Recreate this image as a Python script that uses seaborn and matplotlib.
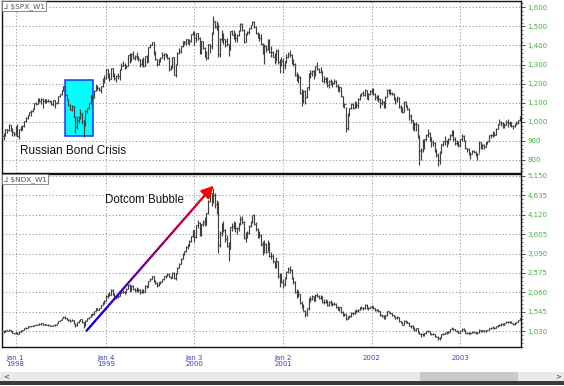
import numpy as np
import matplotlib
matplotlib.use("Agg")
import matplotlib.pyplot as plt
import seaborn as sns
from matplotlib.patches import Rectangle
from matplotlib.collections import LineCollection
from matplotlib.ticker import FixedLocator, MultipleLocator, FuncFormatter

# weekly bars: first bar = week ending 7 Nov 1997, last = week ending 5 Sep 2003
# one line per year (1997 tail, 1998, 1999, 2000, 2001, 2002, 2003)
spx_close = [
    928, 928, 963, 955, 983, 954, 946, 936,
    975, 927, 961, 957, 980, 1003, 1020, 1034, 1049, 1055, 1069, 1100, 1095, 1122, 1110, 1122, 1107, 1121, 1108, 1108, 1110, 1091, 1114, 1098, 1100, 1133, 1146, 1165, 1187, 1141, 1121, 1090, 1063, 1081, 1027, 973, 1009, 1021, 1044, 1002, 984, 1056, 1071, 1099, 1141, 1125, 1163, 1192, 1177, 1167, 1188, 1226,
    1229, 1275, 1243, 1225, 1280, 1240, 1231, 1239, 1238, 1276, 1295, 1300, 1283, 1293, 1349, 1320, 1357, 1336, 1346, 1338, 1330, 1302, 1328, 1294, 1343, 1316, 1392, 1403, 1419, 1357, 1329, 1301, 1328, 1336, 1348, 1357, 1351, 1336, 1277, 1282, 1337, 1247, 1301, 1363, 1371, 1397, 1422, 1417, 1433, 1418, 1422, 1459, 1469,
    1441, 1465, 1441, 1360, 1424, 1387, 1346, 1333, 1409, 1395, 1464, 1527, 1499, 1516, 1357, 1434, 1452, 1433, 1421, 1406, 1378, 1477, 1457, 1464, 1441, 1455, 1478, 1510, 1480, 1419, 1462, 1471, 1491, 1507, 1521, 1495, 1466, 1449, 1437, 1408, 1374, 1396, 1379, 1427, 1365, 1368, 1341, 1315, 1370, 1312, 1305, 1320,
    1298, 1318, 1342, 1354, 1349, 1315, 1302, 1246, 1234, 1234, 1151, 1118, 1160, 1128, 1183, 1243, 1254, 1267, 1245, 1292, 1277, 1260, 1265, 1215, 1226, 1224, 1191, 1216, 1211, 1205, 1215, 1190, 1162, 1185, 1134, 1086, 1093, 966, 1041, 1071, 1092, 1074, 1104, 1087, 1120, 1139, 1150, 1139, 1167, 1124, 1145, 1161,
    1172, 1146, 1128, 1134, 1122, 1096, 1104, 1090, 1132, 1165, 1166, 1149, 1147, 1123, 1112, 1126, 1076, 1073, 1054, 1106, 1084, 1067, 1028, 1007, 989, 990, 989, 921, 847, 852, 865, 909, 929, 940, 917, 893, 889, 845, 827, 801, 836, 884, 897, 900, 895, 909, 930, 936, 912, 889, 895, 876,
    909, 927, 901, 861, 856, 829, 834, 848, 841, 829, 833, 895, 863, 878, 868, 893, 898, 930, 933, 946, 933, 964, 987, 998, 995, 976, 985, 998, 993, 998, 980, 977, 990, 993, 1008, 1021,
]
spx_high = [
    942, 940, 965, 962, 986, 985, 966, 948,
    980, 986, 965, 980, 985, 1005, 1026, 1036, 1052, 1060, 1071, 1101, 1106, 1125, 1123, 1124, 1125, 1122, 1122, 1118, 1113, 1110, 1115, 1115, 1105, 1135, 1148, 1166, 1190, 1188, 1145, 1122, 1092, 1090, 1085, 1030, 1030, 1030, 1066, 1045, 1010, 1060, 1073, 1100, 1142, 1142, 1165, 1193, 1195, 1185, 1190, 1228,
    1244, 1278, 1276, 1256, 1283, 1283, 1255, 1245, 1254, 1276, 1308, 1317, 1310, 1300, 1350, 1363, 1360, 1370, 1350, 1367, 1346, 1330, 1330, 1338, 1344, 1351, 1393, 1406, 1420, 1418, 1370, 1330, 1329, 1340, 1365, 1358, 1362, 1357, 1337, 1300, 1338, 1337, 1302, 1364, 1386, 1397, 1425, 1425, 1435, 1435, 1432, 1460, 1474,
    1478, 1466, 1465, 1442, 1425, 1425, 1390, 1370, 1410, 1410, 1470, 1553, 1528, 1528, 1515, 1440, 1482, 1464, 1435, 1440, 1410, 1478, 1480, 1480, 1465, 1462, 1480, 1520, 1518, 1485, 1465, 1476, 1494, 1509, 1526, 1527, 1500, 1470, 1467, 1460, 1415, 1408, 1400, 1432, 1433, 1395, 1370, 1360, 1380, 1380, 1330, 1340,
    1335, 1320, 1355, 1365, 1376, 1355, 1330, 1310, 1262, 1250, 1240, 1172, 1165, 1165, 1185, 1254, 1269, 1272, 1270, 1294, 1316, 1280, 1287, 1265, 1240, 1237, 1236, 1220, 1225, 1215, 1226, 1218, 1196, 1190, 1185, 1136, 1100, 1080, 1045, 1075, 1100, 1100, 1110, 1105, 1125, 1145, 1153, 1160, 1173, 1165, 1150, 1165,
    1176, 1176, 1150, 1140, 1140, 1125, 1120, 1110, 1135, 1173, 1172, 1170, 1155, 1150, 1130, 1135, 1130, 1090, 1080, 1110, 1110, 1090, 1070, 1040, 1010, 1000, 1000, 990, 930, 865, 912, 912, 935, 962, 945, 920, 905, 895, 860, 835, 845, 885, 902, 925, 905, 915, 935, 955, 955, 920, 905, 900,
    911, 935, 932, 905, 865, 862, 840, 853, 852, 846, 835, 898, 895, 885, 885, 896, 900, 931, 935, 950, 947, 966, 990, 1015, 1005, 998, 995, 1010, 1015, 1005, 1000, 985, 993, 1002, 1010, 1030,
]
spx_low = [
    912, 905, 925, 940, 950, 950, 924, 928,
    930, 918, 912, 950, 955, 975, 1000, 1014, 1030, 1030, 1050, 1065, 1090, 1093, 1105, 1095, 1075, 1100, 1100, 1105, 1102, 1088, 1085, 1075, 1092, 1100, 1130, 1142, 1162, 1135, 1115, 1085, 1060, 1058, 1026, 940, 960, 995, 1015, 990, 923, 980, 1045, 1065, 1095, 1115, 1125, 1160, 1165, 1160, 1153, 1185,
    1205, 1226, 1232, 1213, 1225, 1236, 1220, 1210, 1226, 1220, 1271, 1290, 1275, 1280, 1290, 1310, 1318, 1330, 1325, 1330, 1320, 1285, 1290, 1288, 1290, 1310, 1315, 1385, 1400, 1350, 1325, 1295, 1300, 1315, 1335, 1325, 1340, 1330, 1268, 1270, 1280, 1245, 1233, 1298, 1355, 1360, 1390, 1405, 1405, 1410, 1405, 1420, 1455,
    1400, 1420, 1430, 1355, 1355, 1380, 1340, 1325, 1330, 1360, 1380, 1460, 1490, 1480, 1340, 1340, 1420, 1410, 1390, 1395, 1345, 1375, 1455, 1435, 1420, 1420, 1450, 1475, 1475, 1415, 1420, 1455, 1460, 1486, 1505, 1490, 1460, 1440, 1425, 1405, 1355, 1305, 1365, 1375, 1360, 1340, 1338, 1305, 1320, 1305, 1255, 1290,
    1255, 1275, 1310, 1335, 1340, 1305, 1290, 1240, 1215, 1205, 1145, 1081, 1100, 1091, 1125, 1165, 1230, 1240, 1225, 1240, 1270, 1255, 1255, 1210, 1205, 1205, 1185, 1175, 1195, 1185, 1200, 1185, 1160, 1155, 1132, 1080, 1070, 945, 955, 1030, 1065, 1065, 1070, 1070, 1075, 1115, 1135, 1135, 1135, 1120, 1115, 1140,
    1145, 1140, 1115, 1115, 1105, 1075, 1090, 1075, 1075, 1130, 1145, 1140, 1140, 1115, 1095, 1105, 1075, 1050, 1048, 1050, 1080, 1060, 1010, 995, 955, 950, 950, 915, 775, 800, 840, 855, 900, 920, 900, 870, 875, 840, 815, 768, 780, 835, 875, 880, 870, 885, 905, 925, 900, 880, 880, 870,
    870, 900, 900, 860, 840, 825, 806, 830, 835, 820, 800, 835, 860, 860, 860, 868, 885, 895, 915, 920, 925, 930, 960, 982, 980, 970, 970, 983, 975, 980, 972, 960, 975, 985, 990, 1005,
]

ndx_close = [
    1035, 1010, 1055, 1040, 1070, 1020, 985, 965,
    1000, 960, 1010, 1030, 1065, 1100, 1120, 1150, 1155, 1160, 1175, 1190, 1200, 1220, 1210, 1230, 1195, 1215, 1200, 1180, 1170, 1160, 1190, 1200, 1240, 1300, 1330, 1370, 1410, 1370, 1340, 1330, 1300, 1330, 1220, 1180, 1260, 1300, 1340, 1260, 1190, 1300, 1370, 1400, 1480, 1470, 1570, 1640, 1600, 1640, 1720, 1790,
    1836, 1960, 2000, 1980, 2130, 1990, 1960, 1930, 1960, 2050, 2080, 2070, 2060, 2150, 2260, 2100, 2220, 2140, 2120, 2110, 2110, 2080, 2130, 2060, 2230, 2190, 2350, 2420, 2480, 2350, 2300, 2260, 2320, 2330, 2400, 2480, 2500, 2550, 2470, 2450, 2570, 2430, 2560, 2710, 2820, 2950, 3080, 3150, 3260, 3300, 3420, 3550, 3708,
    3530, 3850, 3900, 3580, 3870, 3920, 3950, 4160, 4490, 4700, 4480, 4640, 4400, 4460, 3320, 3640, 3860, 3720, 3480, 3300, 3200, 3790, 3830, 3890, 3760, 3760, 3890, 4020, 3930, 3510, 3600, 3640, 3830, 3940, 4110, 3880, 3750, 3640, 3570, 3340, 3260, 3350, 3140, 3350, 3030, 3020, 2880, 2740, 2890, 2500, 2480, 2340,
    2270, 2450, 2600, 2690, 2660, 2420, 2340, 2080, 1980, 2010, 1780, 1690, 1570, 1470, 1630, 1860, 1880, 1950, 1840, 1980, 1960, 1910, 1960, 1790, 1800, 1840, 1720, 1810, 1750, 1740, 1760, 1670, 1600, 1660, 1530, 1450, 1470, 1360, 1400, 1440, 1500, 1520, 1560, 1550, 1600, 1660, 1650, 1640, 1730, 1640, 1650, 1670,
    1690, 1640, 1580, 1600, 1560, 1450, 1440, 1380, 1450, 1550, 1530, 1500, 1450, 1420, 1380, 1400, 1290, 1270, 1200, 1300, 1270, 1250, 1170, 1160, 1120, 1050, 1100, 1000, 960, 950, 930, 980, 1020, 1030, 960, 940, 950, 890, 880, 840, 860, 940, 960, 990, 990, 1010, 1080, 1110, 1080, 1030, 1030, 980,
    1030, 1080, 1050, 990, 980, 960, 990, 1010, 1000, 980, 1000, 1070, 1020, 1050, 1020, 1060, 1060, 1100, 1120, 1130, 1110, 1150, 1190, 1180, 1220, 1200, 1230, 1280, 1270, 1280, 1240, 1210, 1250, 1270, 1320, 1370,
]
ndx_high = [
    1065, 1040, 1060, 1060, 1080, 1070, 1030, 990,
    1010, 1010, 1020, 1045, 1070, 1105, 1130, 1155, 1170, 1175, 1180, 1195, 1215, 1225, 1230, 1240, 1235, 1220, 1225, 1210, 1190, 1185, 1195, 1215, 1245, 1305, 1335, 1375, 1425, 1420, 1380, 1360, 1345, 1345, 1330, 1250, 1270, 1320, 1350, 1340, 1265, 1310, 1380, 1410, 1490, 1500, 1575, 1645, 1650, 1650, 1725, 1800,
    1850, 1990, 2030, 2060, 2140, 2150, 2030, 2000, 2000, 2070, 2120, 2130, 2100, 2160, 2280, 2290, 2240, 2260, 2180, 2190, 2170, 2140, 2140, 2150, 2240, 2250, 2360, 2440, 2500, 2490, 2390, 2320, 2330, 2370, 2410, 2490, 2530, 2560, 2570, 2500, 2590, 2600, 2580, 2720, 2840, 2960, 3100, 3160, 3290, 3330, 3440, 3560, 3720,
    3720, 3860, 3990, 3930, 3880, 3990, 4050, 4170, 4500, 4780, 4700, 4820, 4700, 4500, 4460, 3700, 3900, 3950, 3750, 3580, 3400, 3800, 3900, 3950, 3920, 3790, 3900, 4100, 4080, 3950, 3650, 3700, 3860, 3950, 4120, 4130, 3920, 3780, 3700, 3600, 3420, 3450, 3380, 3450, 3400, 3130, 3070, 2900, 3000, 2900, 2560, 2560,
    2400, 2470, 2630, 2740, 2760, 2680, 2460, 2360, 2140, 2120, 2020, 1830, 1740, 1600, 1650, 1900, 1950, 1990, 1960, 2020, 2050, 1980, 2000, 1960, 1880, 1890, 1850, 1820, 1860, 1800, 1800, 1780, 1690, 1670, 1680, 1560, 1500, 1470, 1420, 1460, 1530, 1540, 1600, 1620, 1620, 1680, 1700, 1680, 1750, 1740, 1680, 1700,
    1720, 1700, 1650, 1620, 1620, 1560, 1490, 1450, 1460, 1570, 1560, 1540, 1500, 1460, 1420, 1420, 1400, 1300, 1280, 1310, 1310, 1290, 1260, 1200, 1180, 1130, 1100, 1100, 1010, 990, 990, 990, 1040, 1060, 1030, 980, 970, 950, 910, 900, 880, 960, 990, 1000, 1030, 1030, 1090, 1130, 1120, 1090, 1060, 1040,
    1040, 1100, 1100, 1060, 1010, 1000, 1000, 1030, 1030, 1010, 1010, 1080, 1070, 1070, 1060, 1070, 1070, 1110, 1130, 1150, 1140, 1160, 1200, 1210, 1230, 1230, 1240, 1290, 1300, 1300, 1290, 1250, 1260, 1280, 1330, 1380,
]
ndx_low = [
    1005, 975, 1000, 1025, 1035, 1015, 965, 955,
    955, 945, 950, 1000, 1025, 1060, 1095, 1115, 1140, 1140, 1150, 1170, 1185, 1195, 1195, 1200, 1190, 1180, 1190, 1170, 1160, 1150, 1150, 1175, 1195, 1235, 1295, 1325, 1365, 1360, 1330, 1300, 1280, 1290, 1215, 1140, 1170, 1245, 1290, 1250, 1120, 1170, 1290, 1355, 1395, 1440, 1460, 1560, 1590, 1580, 1630, 1710,
    1760, 1830, 1920, 1950, 1980, 1980, 1900, 1880, 1900, 1950, 2040, 2040, 2020, 2050, 2150, 2080, 2100, 2120, 2060, 2060, 2060, 2010, 2040, 2030, 2060, 2170, 2190, 2350, 2410, 2340, 2280, 2200, 2230, 2290, 2320, 2390, 2450, 2480, 2460, 2400, 2430, 2400, 2380, 2550, 2700, 2800, 2940, 3050, 3140, 3220, 3290, 3400, 3530,
    3400, 3500, 3780, 3550, 3550, 3820, 3830, 3850, 4150, 4450, 4350, 4420, 4300, 4150, 3100, 3250, 3550, 3650, 3400, 3250, 2900, 3200, 3700, 3750, 3650, 3600, 3700, 3850, 3880, 3480, 3400, 3500, 3620, 3800, 3900, 3860, 3700, 3500, 3500, 3300, 3050, 3100, 3100, 3150, 3000, 2950, 2850, 2700, 2700, 2450, 2200, 2300,
    2180, 2230, 2420, 2580, 2580, 2400, 2290, 2050, 1920, 1930, 1760, 1640, 1550, 1400, 1440, 1600, 1790, 1850, 1820, 1820, 1930, 1880, 1880, 1770, 1750, 1770, 1700, 1700, 1730, 1700, 1720, 1650, 1580, 1560, 1520, 1430, 1420, 1330, 1340, 1380, 1410, 1460, 1480, 1520, 1530, 1580, 1620, 1600, 1620, 1620, 1600, 1640,
    1630, 1620, 1570, 1560, 1540, 1430, 1400, 1350, 1360, 1440, 1510, 1490, 1440, 1400, 1360, 1360, 1280, 1240, 1180, 1190, 1250, 1230, 1150, 1120, 1090, 1020, 1020, 990, 950, 880, 900, 900, 960, 1000, 950, 920, 920, 880, 860, 800, 795, 850, 920, 950, 960, 980, 1010, 1080, 1070, 1020, 1010, 970,
    970, 1020, 1040, 980, 960, 950, 950, 980, 990, 960, 950, 990, 1010, 1010, 1010, 1010, 1040, 1050, 1090, 1110, 1090, 1100, 1140, 1160, 1170, 1190, 1190, 1230, 1250, 1250, 1230, 1190, 1200, 1240, 1260, 1320,
]

# first bar of each year and its label
year_bars = [8, 61, 113, 165, 217, 269]
year_labels = ['Jan 1\n1998', 'Jan 4\n1999', 'Jan 3\n2000', 'Jan 2\n2001', '2002', '2003']
spx_ticks = [800, 900, 1000, 1100, 1200, 1300, 1400, 1500, 1600]
ndx_ticks = [1030, 1545, 2060, 2575, 3090, 3605, 4120, 4635, 5150]

sns.set_theme(style='white')
plt.rcParams['font.family'] = ['DejaVu Sans']

W, H = 564, 386
fig = plt.figure(figsize=(W / 100, H / 100), dpi=100)
fig.patch.set_facecolor('white')


def px_box(left, top, right, bottom):
    return [left / W, 1 - bottom / H, (right - left) / W, (bottom - top) / H]


ax1 = fig.add_axes(px_box(1.5, 1, 521, 172.5))
ax2 = fig.add_axes(px_box(1.5, 174, 521, 347))

bar_color = '#404040'
grid_kw = dict(color='#a0a0a0', lw=0.75, ls=(0, (1.2, 2.0)))


def draw_ohlc(ax, close, high, low):
    n = min(len(close), len(high), len(low))
    c = np.asarray(close[:n], float)
    idx = np.arange(n)
    opens = np.r_[c[0], c[:-1]]
    ax.vlines(idx, low[:n], high[:n], color=bar_color, lw=0.85, zorder=3)
    ax.hlines(opens, idx - 0.5, idx, color=bar_color, lw=0.8, zorder=3)
    ax.hlines(c, idx, idx + 0.5, color=bar_color, lw=0.8, zorder=3)


def style_panel(ax, ticks, minor_step, ylim, name):
    ax.set_facecolor('white')
    ax.set_xlim(-0.3, 304.7)
    ax.set_ylim(*ylim)
    ax.yaxis.tick_right()
    ax.yaxis.set_major_locator(FixedLocator(ticks))
    ax.yaxis.set_minor_locator(MultipleLocator(minor_step))
    ax.yaxis.set_major_formatter(FuncFormatter(lambda v, p: f'{v:,.0f}'))
    ax.xaxis.set_major_locator(FixedLocator(year_bars))
    quarter = [b + k for b in year_bars + [321] for k in (-39, -26, -13) if 0 < b + k < 305]
    ax.xaxis.set_minor_locator(FixedLocator(quarter))
    ax.tick_params(axis='y', which='major', direction='out', length=3, width=0.6,
                   color='#333333', labelsize=5, labelcolor='#3db33d', pad=1.5)
    ax.tick_params(axis='y', which='minor', direction='out', length=1.6, width=0.5, color='#333333')
    ax.tick_params(axis='y', left=False, right=True, which='both')
    for y in ticks:
        ax.axhline(y, zorder=1, **grid_kw)
    for x in year_bars:
        ax.axvline(x, zorder=1, **grid_kw)
    for s in ax.spines.values():
        s.set_color('#111111')
        s.set_linewidth(1.0)
    ax.text(0.004, 0.99, '\u2143 ' + name, transform=ax.transAxes, ha='left', va='top',
            fontsize=5.3, color='#555555', zorder=6,
            bbox=dict(boxstyle='square,pad=0.18', fc='white', ec='#777777', lw=0.6))


style_panel(ax1, spx_ticks, 20, (734.5, 1633), '$SPX_W1')
style_panel(ax2, ndx_ticks, 103, (605, 5203), '$NDX_W1')

ax1.tick_params(axis='x', which='both', bottom=False, labelbottom=False)
ax2.set_xticklabels(year_labels)
ax2.tick_params(axis='x', which='major', direction='out', length=3, width=0.6, color='#333333',
                labelsize=5, labelcolor='#4040b8', pad=2.5)
ax2.tick_params(axis='x', which='minor', direction='out', length=2.5, width=0.5, color='#333333')
for lbl in ax2.get_xticklabels():
    lbl.set_linespacing(1.15)

draw_ohlc(ax1, spx_close, spx_high, spx_low)
draw_ohlc(ax2, ndx_close, ndx_high, ndx_low)

# Russian bond crisis box
ax1.add_patch(Rectangle((36.7, 926), 17.0, 293, facecolor='#00ffff', edgecolor='#2030ff',
                        lw=1.1, zorder=2))
ax1.text(10.3, 845, 'Russian Bond Crisis', fontsize=8.5, color='#111111',
         family=['Liberation Sans', 'DejaVu Sans'], ha='left', va='center', zorder=6)

# dotcom arrow, blue to red
x0, y0, x1, y1 = 49.6, 1035, 123.0, 4840
t = np.linspace(0, 1, 60)
xs = x0 + (x1 - x0) * t
ys = y0 + (y1 - y0) * t
segs = np.stack([np.column_stack([xs[:-1], ys[:-1]]), np.column_stack([xs[1:], ys[1:]])], axis=1)
cols = np.column_stack([t[:-1], np.zeros(len(t) - 1), 1 - t[:-1]])
ax2.add_collection(LineCollection(segs, colors=cols, linewidths=1.6, zorder=5, capstyle='round'))
ax2.annotate('', xy=(124.3, 4890), xytext=(x1 - 2.0, y1 - 100),
             arrowprops=dict(arrowstyle='-|>,head_length=0.6,head_width=0.3', color='#ff0000',
                             lw=1.6, shrinkA=0, shrinkB=0), zorder=6)
ax2.text(83.4, 4512, 'Dotcom Bubble', fontsize=8.3, color='#111111',
         family=['Liberation Sans', 'DejaVu Sans'], ha='center', va='center', zorder=6)

# scrollbar strip and bottom shadow
fig.add_artist(Rectangle((0, 1 - 381 / H), 1, 9 / H, transform=fig.transFigure,
                         facecolor='#e9e9e9', edgecolor='none'))
fig.add_artist(Rectangle((420 / W, 1 - 381 / H), 98 / W, 9 / H, transform=fig.transFigure,
                         facecolor='#c9c9c9', edgecolor='none'))
fig.text(3 / W, 1 - 376.5 / H, '<', fontsize=5, color='#333333', va='center')
fig.text(555 / W, 1 - 376.5 / H, '>', fontsize=5, color='#333333', va='center')
fig.add_artist(Rectangle((0, 1 / H), 1, 4 / H, transform=fig.transFigure,
                         facecolor='#3a3a3a', edgecolor='none'))

fig.savefig('out.png', dpi=100, facecolor='white')
